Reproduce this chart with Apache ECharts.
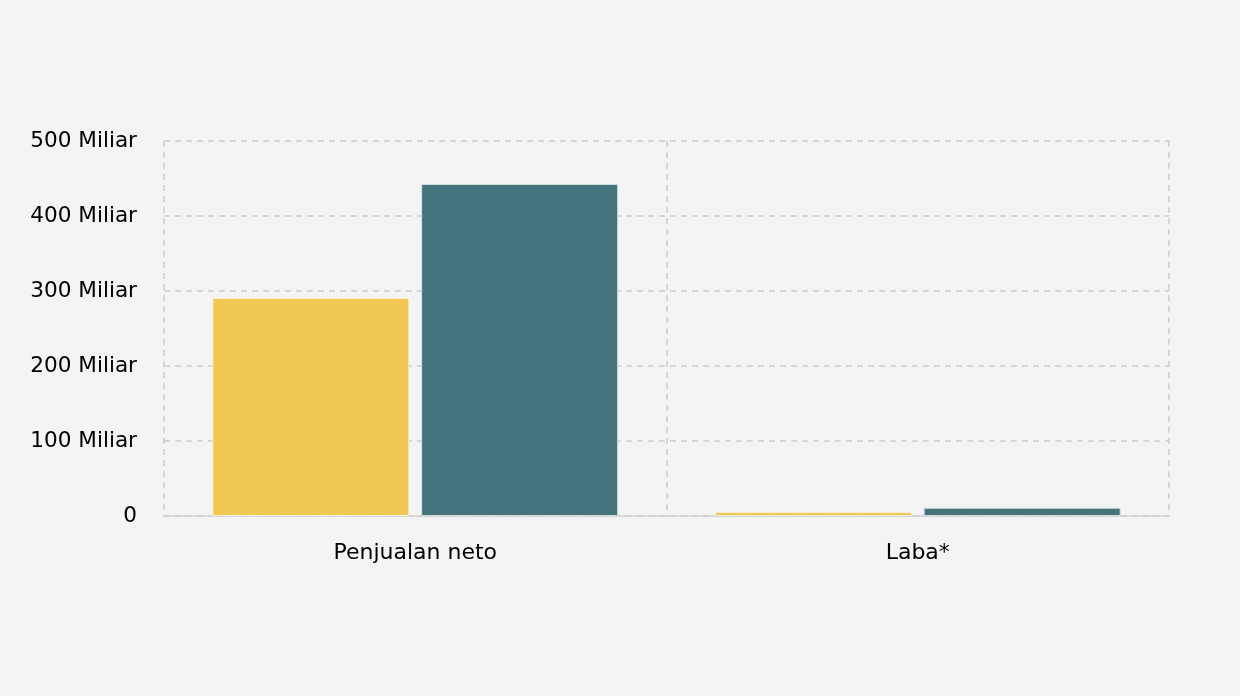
<!DOCTYPE html>
<html><head><meta charset="utf-8">
<script src="https://cdn.jsdelivr.net/npm/echarts@6/dist/echarts.min.js"></script>
<style>html,body{margin:0;padding:0;background:#f4f4f4;}#c{width:1240px;height:696px;}</style>
</head><body><div id="c"></div>
<script>
const categories = ['Penjualan neto', 'Laba*'];
const seriesA = [290.7e9, 5.5e9];
const seriesB = [442.7e9, 11e9];
const yTicks = { min: 0, max: 500e9, interval: 100e9 };

const chart = echarts.init(document.getElementById('c'));
const font = 'DejaVu Sans';
chart.setOption({
  backgroundColor: '#f4f4f4',
  animation: false,
  grid: { left: 164, right: 71, top: 141, bottom: 180, containLabel: false },
  xAxis: {
    type: 'category', data: categories,
    axisLine: { lineStyle: { color: '#cfcfcf', width: 1.5 } },
    axisTick: { alignWithLabel: true, length: 6, lineStyle: { color: '#cfcfcf', width: 1.5 } },
    axisLabel: { color: '#000', fontSize: 22, fontFamily: font, margin: 26 },
    splitLine: { show: true, lineStyle: { color: '#cccccc', type: [6, 5], width: 1.5 } }
  },
  yAxis: {
    type: 'value', min: yTicks.min, max: yTicks.max, interval: yTicks.interval,
    axisLine: { show: false }, axisTick: { show: false },
    axisLabel: { color: '#000', fontSize: 21.6, fontFamily: font, margin: 27, padding: [3, 0, 0, 0],
      formatter: v => v === 0 ? '0' : (v / 1e9) + ' Miliar' },
    splitLine: { lineStyle: { color: '#cccccc', type: [6, 5], width: 1.5 } }
  },
  series: [
    { type: 'bar', data: seriesA, barWidth: 197, barGap: '6%',
      itemStyle: { color: '#f0c54a', opacity: 0.95, borderColor: '#f6f1e0', borderWidth: 1 } },
    { type: 'bar', data: seriesB, barWidth: 197, barGap: '6%',
      itemStyle: { color: '#3a6c77', opacity: 0.95, borderColor: '#d6e0e2', borderWidth: 1 } }
  ]
});
</script></body></html>
